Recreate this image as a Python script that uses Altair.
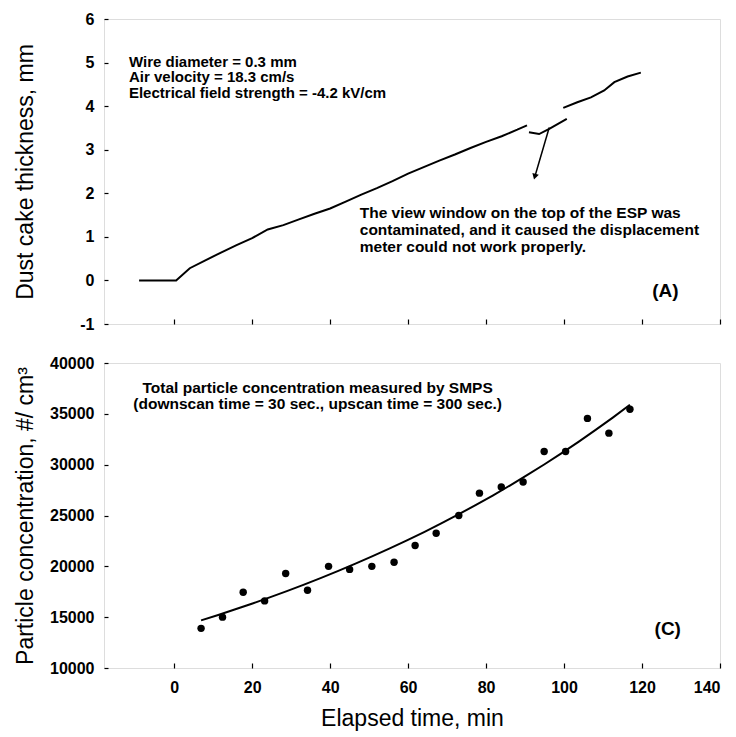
import altair as alt
import pandas as pd

# ---------------- Panel (A): dust cake thickness ----------------
thick_t = [-9, 0.5, 4, 8, 12, 16, 20, 24, 28, 32, 36, 40, 44, 48, 52, 56, 60,
           64, 68, 72, 76, 80, 84, 88, 90.5]
thick_mm = [0, 0, 0.28, 0.46, 0.64, 0.81, 0.97, 1.17, 1.27, 1.40, 1.53, 1.65,
            1.81, 1.97, 2.12, 2.28, 2.45, 2.60, 2.75, 2.89, 3.04, 3.18, 3.31,
            3.46, 3.56]
glitch_t = [91.0, 93.6, 96.2, 100.7]
glitch_mm = [3.40, 3.36, 3.48, 3.71]
resume_t = [99.8, 103.4, 106.9, 110.3, 112.9, 116.3, 119.7]
resume_mm = [3.96, 4.09, 4.20, 4.36, 4.55, 4.68, 4.77]

arrow_t = [96.2, 92.5]
arrow_mm = [3.51, 2.38]

notes_a = ["Wire diameter = 0.3 mm", "Air velocity = 18.3 cm/s",
           "Electrical field strength = -4.2 kV/cm"]
notes_a_t = [-11.6, -11.6, -11.6]
notes_a_mm = [5.015, 4.66, 4.30]

notes_b = ["The view window on the top of the ESP was",
           "contaminated, and it caused the displacement",
           "meter could not work properly."]
notes_b_t = [47.6, 47.6, 47.6]
notes_b_mm = [1.54, 1.15, 0.76]

# ---------------- Panel (C): particle concentration ----------------
smps_t = [6.9, 12.4, 17.7, 23.2, 28.6, 34.2, 39.6, 45.0, 50.7, 56.4, 61.8,
          67.2, 73.0, 78.3, 83.9, 89.5, 94.9, 100.4, 106.0, 111.5, 116.9]
smps_conc = [13900, 15000, 17450, 16600, 19300, 17650, 20000, 19700, 20000,
             20400, 22050, 23250, 25000, 27200, 27800, 28300, 31300, 31300,
             34550, 33100, 35450]

notes_c = ["Total particle concentration measured by SMPS",
           "(downscan time = 30 sec., upscan time = 300 sec.)"]
notes_c_t = [36.8, 36.8]
notes_c_conc = [37530, 35960]

x_ticks = [0, 20, 40, 60, 80, 100, 120, 140]
y_ticks_a = [-1, 0, 1, 2, 3, 4, 5, 6]
y_ticks_c = [10000, 15000, 20000, 25000, 30000, 35000, 40000]

FONT = "Liberation Sans"
W, H = 616, 305
XDOM = [-18, 140]

# ---------- build tables ----------
seg_df = pd.concat([
    pd.DataFrame({"t": thick_t, "mm": thick_mm, "seg": "a"}),
    pd.DataFrame({"t": glitch_t, "mm": glitch_mm, "seg": "b"}),
    pd.DataFrame({"t": resume_t, "mm": resume_mm, "seg": "c"}),
], ignore_index=True)
arrow_df = pd.DataFrame({"t": arrow_t, "mm": arrow_mm})
head_df = arrow_df.tail(1)
na_df = pd.DataFrame({"t": notes_a_t, "mm": notes_a_mm, "txt": notes_a})
nb_df = pd.DataFrame({"t": notes_b_t, "mm": notes_b_mm, "txt": notes_b})
smps_df = pd.DataFrame({"t": smps_t, "conc": smps_conc})
nc_df = pd.DataFrame({"t": notes_c_t, "conc": notes_c_conc, "txt": notes_c})

LABEL_EXPR = "datum.value < 0 ? '-' + abs(datum.value) : '' + datum.value"

def xenc(show_labels):
    ax = dict(values=x_ticks, grid=False, domain=False, tickSize=5, offset=-5,
              tickColor="black", tickWidth=1.2)
    if show_labels:
        ax.update(labels=True, labelFontSize=16, labelFontWeight="bold",
                  labelColor="black", labelPadding=11, labelFont=FONT,
                  labelExpr=LABEL_EXPR,
                  title="Elapsed time, min", titleFontSize=23,
                  titleFontWeight="normal", titleColor="black",
                  titleFont=FONT, titlePadding=12)
    else:
        ax.update(labels=False, title=None)
    return alt.X("t:Q", scale=alt.Scale(domain=XDOM, nice=False, zero=False),
                 axis=alt.Axis(**ax))

def yaxis(values, title):
    return alt.Axis(values=values, grid=False, domain=False, tickSize=4,
                    offset=-4, tickColor="black", tickWidth=1.2,
                    labelFontSize=16, labelFontWeight="bold",
                    labelColor="black", labelPadding=10, labelFont=FONT,
                    labelExpr=LABEL_EXPR, title=title, titleFontSize=23,
                    titleFontWeight="normal", titleColor="black",
                    titleFont=FONT, titleX=-76, titleBaseline="alphabetic")

ya = alt.Y("mm:Q", scale=alt.Scale(domain=[-1, 6], nice=False),
           axis=yaxis(y_ticks_a, "Dust cake thickness, mm"))

line_a = alt.Chart(seg_df).mark_line(color="black", strokeWidth=2).encode(
    x=xenc(False), y=ya, detail="seg:N")
arrow_line = alt.Chart(arrow_df).mark_line(color="black", strokeWidth=1.5).encode(
    x="t:Q", y="mm:Q")
arrow_head = alt.Chart(head_df).mark_point(
    shape="triangle-down", filled=True, color="black", size=45, angle=16,
    opacity=1).encode(x="t:Q", y="mm:Q")
txt_a = alt.Chart(na_df).mark_text(align="left", baseline="middle",
                                   fontSize=15, fontWeight="bold", font=FONT,
                                   color="black").encode(x="t:Q", y="mm:Q",
                                                         text="txt:N")
txt_b = alt.Chart(nb_df).mark_text(align="left", baseline="middle",
                                   fontSize=15.5, fontWeight="bold", font=FONT,
                                   color="black").encode(x="t:Q", y="mm:Q",
                                                         text="txt:N")
lab_a = alt.Chart(pd.DataFrame({"t": [126.0], "mm": [-0.25], "txt": ["(A)"]})
                  ).mark_text(fontSize=19, fontWeight="bold", font=FONT,
                              color="black").encode(x="t:Q", y="mm:Q",
                                                    text="txt:N")

top = alt.layer(line_a, arrow_line, arrow_head, txt_a, txt_b, lab_a).properties(
    width=W, height=H)

yc = alt.Y("conc:Q", scale=alt.Scale(domain=[10000, 40000], nice=False,
                                     zero=False),
           axis=yaxis(y_ticks_c, "Particle concentration, #/ cm³"))

pts = alt.Chart(smps_df).mark_circle(color="black", size=55, opacity=1).encode(
    x=xenc(True), y=yc)
fit = alt.Chart(smps_df).transform_regression(
    "t", "conc", method="exp", extent=[smps_t[0], smps_t[-1]]
).mark_line(color="black", strokeWidth=2).encode(x="t:Q", y="conc:Q")
txt_c = alt.Chart(nc_df).mark_text(align="center", baseline="middle",
                                   fontSize=15.5, fontWeight="bold", font=FONT,
                                   color="black").encode(x="t:Q", y="conc:Q",
                                                         text="txt:N")
lab_c = alt.Chart(pd.DataFrame({"t": [126.6], "conc": [13830], "txt": ["(C)"]})
                  ).mark_text(fontSize=19, fontWeight="bold", font=FONT,
                              color="black").encode(x="t:Q", y="conc:Q",
                                                    text="txt:N")

bottom = alt.layer(fit, pts, txt_c, lab_c).properties(width=W, height=H)

chart = alt.vconcat(top, bottom, spacing=39, bounds="flush").properties(
    padding={"left": 5, "top": 2, "right": 0, "bottom": 2}
).configure_view(stroke="black", strokeWidth=1.6).configure(font=FONT)

chart.save("out.html", embed_options={"renderer": "svg", "actions": False})
